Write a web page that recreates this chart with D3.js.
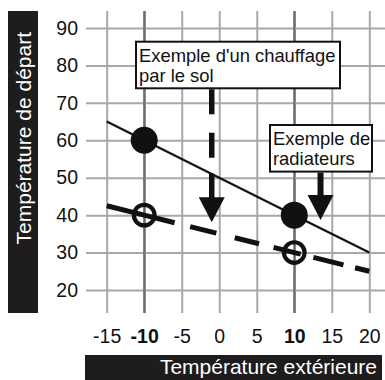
<!DOCTYPE html>
<html><head><meta charset="utf-8">
<script src="https://cdn.jsdelivr.net/npm/d3@7"></script>
<style>body{margin:0;background:#fff}svg{display:block}</style>
</head><body>
<svg id="c" width="385" height="380"></svg>
<script>
// ---- data ----
const xTicks = [-15, -10, -5, 0, 5, 10, 15, 20];
const boldXTicks = [-10, 10];
const yTicks = [20, 30, 40, 50, 60, 70, 80, 90];
const outdoorTemps = [-15, -10, 10, 20];
const radiatorFlow = [65, 60, 40, 30];
const floorFlow = [42.5, 40, 30, 25];
const markerTemps = [-10, 10];
const radiatorMarkers = [60, 40];
const floorMarkers = [40, 30];
const annotationLines = [["Exemple d'un chauffage", "par le sol"], ["Exemple de", "radiateurs"]];
const arrowTemps = [-1, 13.5];
const arrowTargets = [38.1, 38.7];
const xTitle = "Température extérieure";
const yTitle = "Température de départ";

const FONT = "'Liberation Sans', Arial, Helvetica, sans-serif";
const svg = d3.select("#c");
const x = d3.scaleLinear().domain([-15, 20]).range([106.7, 369.3]);
const y = d3.scaleLinear().domain([20, 90]).range([290, 28]);

// x axis / vertical grid
const gx = svg.append("g").attr("transform", "translate(0,11)")
  .call(d3.axisBottom(x).tickValues(xTicks).tickSize(302).tickPadding(16.5).tickFormat(d => String(d)));
gx.select(".domain").remove();
gx.selectAll(".tick line").attr("stroke", d => boldXTicks.includes(d) ? "#6e6e6e" : "#a8a8a8").attr("stroke-width", 2);
gx.selectAll(".tick text").attr("fill", "#111").style("font-family", FONT).style("font-size", "19.5px")
  .style("font-weight", d => boldXTicks.includes(d) ? "bold" : "normal");

// y axis / horizontal grid
const gy = svg.append("g").attr("transform", "translate(385,0)")
  .call(d3.axisLeft(y).tickValues(yTicks).tickSize(299).tickPadding(8));
gy.select(".domain").remove();
gy.selectAll(".tick line").attr("stroke", "#a8a8a8").attr("stroke-width", 2);
gy.selectAll(".tick text").attr("fill", "#111").style("font-family", FONT).style("font-size", "19.5px");

// redraw dark vertical lines above horizontal grid
svg.append("g").selectAll("line").data(boldXTicks).join("line")
  .attr("x1", d => x(d)).attr("x2", d => x(d)).attr("y1", 11).attr("y2", 313)
  .attr("stroke", "#6e6e6e").attr("stroke-width", 2);

// title bars
svg.append("rect").attr("x", 8).attr("y", 11).attr("width", 30).attr("height", 302).attr("fill", "#1f1c1d");
svg.append("text").attr("transform", "translate(30.5,32) rotate(-90)").attr("text-anchor", "end")
  .attr("fill", "#fff").style("font-family", FONT).style("font-size", "21px").text(yTitle);
svg.append("rect").attr("x", 85).attr("y", 355).attr("width", 297).attr("height", 25).attr("fill", "#1f1c1d");
svg.append("text").attr("x", 377).attr("y", 374).attr("text-anchor", "end")
  .attr("fill", "#fff").style("font-family", FONT).style("font-size", "21px").text(xTitle);

// lines
const line = d3.line().x(d => x(d[0])).y(d => y(d[1]));
svg.append("path").datum(d3.zip(outdoorTemps, radiatorFlow)).attr("d", line)
  .attr("fill", "none").attr("stroke", "#111").attr("stroke-width", 2.2);
svg.append("path").datum(d3.zip(outdoorTemps, floorFlow)).attr("d", line)
  .attr("fill", "none").attr("stroke", "#111").attr("stroke-width", 5)
  .attr("stroke-dasharray", "70,16,27,19,25,15,28,13,31,12,20");

// markers
svg.append("g").selectAll("circle").data(d3.zip(markerTemps, radiatorMarkers)).join("circle")
  .attr("cx", d => x(d[0])).attr("cy", d => y(d[1])).attr("r", 13.5).attr("fill", "#111");
svg.append("g").selectAll("circle").data(d3.zip(markerTemps, floorMarkers)).join("circle")
  .attr("cx", d => x(d[0])).attr("cy", d => y(d[1])).attr("r", 10.3).attr("fill", "none")
  .attr("stroke", "#111").attr("stroke-width", 4.2);

// annotation boxes
const boxes = [{x: 136, y: 41.7, w: 204, h: 46.6}, {x: 270, y: 125, w: 102, h: 46.6}];
boxes.forEach((b, i) => {
  svg.append("rect").attr("x", b.x).attr("y", b.y).attr("width", b.w).attr("height", b.h)
    .attr("fill", "#fff").attr("stroke", "#111").attr("stroke-width", 2);
  const t = svg.append("text").attr("fill", "#111").style("font-family", FONT).style("font-size", "18.4px");
  annotationLines[i].forEach((s, j) => t.append("tspan").attr("x", b.x + 3).attr("y", b.y + 20 + j * 20).text(s));
  // arrow
  const ax = x(arrowTemps[i]), tip = y(arrowTargets[i]), headH = 25, headW = 26;
  svg.append("line").attr("x1", ax).attr("x2", ax).attr("y1", b.y + b.h + 1).attr("y2", tip - headH + 2)
    .attr("stroke", "#111").attr("stroke-width", i === 0 ? 5.5 : 6)
    .attr("stroke-dasharray", i === 0 ? "25,18.5,25,16,40" : null);
  svg.append("path").attr("d", `M${ax - headW / 2},${tip - headH}L${ax + headW / 2},${tip - headH}L${ax},${tip}Z`)
    .attr("fill", "#111");
});
</script>
</body></html>
